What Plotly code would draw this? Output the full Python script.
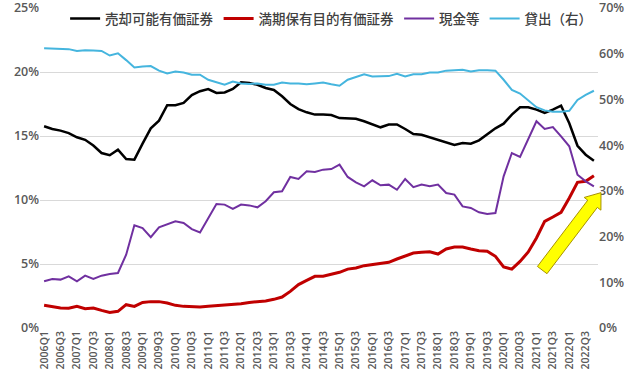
import plotly.graph_objects as go
import math

quarters = [f"{y}Q{q}" for y in range(2006, 2023) for q in range(1, 5)]

afs = [15.76, 15.55, 15.42, 15.23, 14.9, 14.7, 14.25, 13.67, 13.5, 13.93, 13.2, 13.15, 14.4, 15.6, 16.2, 17.4, 17.4,
       17.58, 18.2, 18.5, 18.67, 18.36, 18.4, 18.67, 19.2, 19.14, 19.0, 18.75, 18.6, 18.1, 17.5, 17.1, 16.85, 16.67,
       16.67, 16.64, 16.4, 16.35, 16.35, 16.15, 15.9, 15.68, 15.9, 15.9, 15.55, 15.16, 15.1, 14.9, 14.7, 14.53, 14.3,
       14.45, 14.4, 14.66, 15.16, 15.6, 15.96, 16.67, 17.24, 17.24, 17.06, 16.8, 17.06, 17.37, 16.0, 14.24, 13.54, 13.07]

htm = [1.77, 1.64, 1.56, 1.54, 1.69, 1.51, 1.56, 1.38, 1.22, 1.3, 1.82, 1.69, 2.0, 2.06, 2.06, 1.95, 1.77,
       1.69, 1.64, 1.64, 1.69, 1.74, 1.8, 1.88, 1.9, 2.0, 2.06, 2.11, 2.24, 2.42, 2.86, 3.39, 3.72, 4.04,
       4.04, 4.17, 4.35, 4.6, 4.69, 4.87, 4.97, 5.08, 5.13, 5.39, 5.65, 5.86, 5.91, 5.96, 5.78, 6.17, 6.33,
       6.33, 6.17, 6.04, 5.99, 5.6, 4.77, 4.6, 5.2, 5.94, 7.03, 8.33, 8.67, 9.04, 10.16, 11.38, 11.46, 11.9]

cash = [3.65, 3.83, 3.78, 4.04, 3.65, 4.09, 3.83, 4.09, 4.22, 4.3, 5.73, 8.02, 7.81, 7.1, 7.86, 8.07, 8.33,
        8.2, 7.73, 7.47, 8.6, 9.69, 9.64, 9.3, 9.64, 9.58, 9.43, 9.9, 10.6, 10.68, 11.8, 11.64, 12.24, 12.19,
        12.37, 12.42, 12.76, 11.8, 11.38, 11.07, 11.54, 11.15, 11.2, 10.8, 11.64, 11.0, 11.2, 11.07, 11.2, 10.55, 10.42,
        9.5, 9.38, 9.04, 8.9, 8.98, 11.85, 13.67, 13.36, 14.71, 16.15, 15.55, 15.7, 14.97, 14.2, 11.98, 11.46, 11.07]

loans = [61.2, 61.1, 61.05, 61.0, 60.6, 60.75, 60.7, 60.6, 59.6, 60.1, 58.6, 57.0, 57.2, 57.3, 56.3, 55.7, 56.1,
         55.9, 55.4, 55.4, 54.3, 53.8, 53.2, 53.9, 53.5, 53.4, 53.5, 53.2, 53.2, 53.7, 53.5, 53.5, 53.3, 53.5,
         53.7, 53.3, 53.0, 54.3, 54.85, 55.5, 55.0, 55.1, 55.1, 55.6, 55.0, 55.5, 55.5, 55.9, 55.9, 56.3, 56.4,
         56.5, 56.1, 56.4, 56.4, 56.3, 54.3, 52.1, 51.3, 49.7, 48.3, 47.6, 47.3, 47.3, 47.5, 49.9, 51.0, 51.9]

left_ticks = [0, 5, 10, 15, 20, 25]
right_ticks = [0, 10, 20, 30, 40, 50, 60, 70]

names = ["売却可能有価証券", "満期保有目的有価証券", "現金等", "貸出（右）"]
colors = ["#000000", "#C00000", "#7030A0", "#45B5DE"]

fig = go.Figure()
fig.add_trace(go.Scatter(x=quarters, y=afs, name=names[0], mode="lines",
                         line=dict(color=colors[0], width=2.5)))
fig.add_trace(go.Scatter(x=quarters, y=htm, name=names[1], mode="lines",
                         line=dict(color=colors[1], width=3)))
fig.add_trace(go.Scatter(x=quarters, y=cash, name=names[2], mode="lines",
                         line=dict(color=colors[2], width=2)))
fig.add_trace(go.Scatter(x=quarters, y=loans, name=names[3], mode="lines", yaxis="y2",
                         line=dict(color=colors[3], width=2)))

# block arrow (annotation) in paper coordinates
tail = (0.900, 0.181)
tip = (1.0054, 0.423)
W, H = 558.0, 320.0
tx, ty = tail[0] * W, tail[1] * H
px_, py_ = tip[0] * W, tip[1] * H
dx, dy = px_ - tx, py_ - ty
L = math.hypot(dx, dy)
ux, uy = dx / L, dy / L
nx, ny = -uy, ux
bw, hw, hl = 6.0, 10.5, 14.0
hx, hy = px_ - ux * hl, py_ - uy * hl
pts = [
    (tx + nx * bw, ty + ny * bw),
    (hx + nx * bw, hy + ny * bw),
    (hx + nx * hw, hy + ny * hw),
    (px_, py_),
    (hx - nx * hw, hy - ny * hw),
    (hx - nx * bw, hy - ny * bw),
    (tx - nx * bw, ty - ny * bw),
]
path = "M " + " L ".join(f"{x / W:.5f},{y / H:.5f}" for x, y in pts) + " Z"
fig.add_shape(type="path", path=path, xref="paper", yref="paper",
              fillcolor="#FFFF00", line=dict(color="#A89200", width=1))

tickfont = dict(family="Open Sans, Liberation Sans, sans-serif", size=12.5, color="#595959", weight=600)
fig.update_layout(
    width=640, height=377,
    margin=dict(l=40, r=42, t=8, b=49, autoexpand=False),
    plot_bgcolor="white", paper_bgcolor="white",
    font=dict(family="Noto Sans CJK JP, sans-serif", size=13, color="#404040"),
    showlegend=True,
    legend=dict(orientation="h", x=0.045, y=1.015, xanchor="left", yanchor="top",
                bgcolor="rgba(0,0,0,0)", font=dict(size=13.5, color="#404040", weight=500),
                itemwidth=30, tracegroupgap=0),
    xaxis=dict(type="category", range=[-0.5, 67.5], tickvals=quarters[::2], tickangle=-90,
               tickfont=dict(family="Open Sans, Liberation Sans, sans-serif", size=10.5,
                             color="#595959", weight=600),
               showgrid=False, showline=False, ticks="", zeroline=False, automargin=False),
    yaxis=dict(range=[0, 25], tickmode="array", tickvals=left_ticks, ticktext=[f"{v}%" for v in left_ticks],
               tickfont=tickfont, gridcolor="#D9D9D9", gridwidth=1, zeroline=False, showline=False,
               ticks="", automargin=False, ticklabeloverflow="allow"),
    yaxis2=dict(range=[0, 70], tickmode="array", tickvals=right_ticks, ticktext=[f"{v}%" for v in right_ticks],
                tickfont=tickfont, overlaying="y", side="right",
                showgrid=False, zeroline=False, showline=False, ticks="", automargin=False,
                ticklabeloverflow="allow"),
)

fig.write_html("out.html", config={"displayModeBar": False},
               post_script="document.body.style.margin='0';document.body.style.overflow='hidden';")
